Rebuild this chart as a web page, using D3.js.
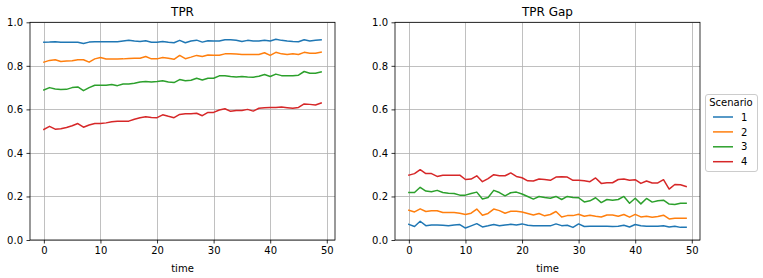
<!DOCTYPE html>
<html><head><meta charset="utf-8">
<script src="https://cdn.jsdelivr.net/npm/d3@7"></script>
<style>body{margin:0;background:#fff}svg{display:block;font-family:"DejaVu Sans",sans-serif}</style>
</head><body><svg id="c" width="763" height="278"></svg>
<script>
const time = d3.range(50);
const scenarios = ["1","2","3","4"];
const colors = ["#1f77b4","#ff7f0e","#2ca02c","#d62728"];
const xTicks = [0,10,20,30,40,50];
const yTicks = [0,0.2,0.4,0.6,0.8,1.0];

const tpr1 = [0.908,0.909,0.911,0.908,0.908,0.908,0.908,0.903,0.909,0.911,0.911,0.911,0.911,0.911,0.914,0.917,0.914,0.912,0.915,0.908,0.908,0.912,0.908,0.906,0.917,0.906,0.914,0.918,0.909,0.915,0.914,0.914,0.920,0.920,0.918,0.912,0.917,0.914,0.914,0.918,0.914,0.922,0.917,0.914,0.912,0.911,0.920,0.914,0.917,0.920];
const tpr2 = [0.817,0.825,0.828,0.820,0.822,0.823,0.828,0.828,0.817,0.832,0.838,0.831,0.831,0.831,0.832,0.834,0.835,0.835,0.843,0.832,0.832,0.838,0.835,0.830,0.848,0.833,0.840,0.848,0.843,0.850,0.849,0.849,0.855,0.855,0.854,0.852,0.852,0.852,0.852,0.860,0.848,0.862,0.855,0.852,0.855,0.852,0.862,0.858,0.858,0.863];
const tpr3 = [0.689,0.700,0.694,0.691,0.692,0.700,0.703,0.686,0.700,0.711,0.711,0.711,0.714,0.709,0.717,0.717,0.720,0.726,0.728,0.726,0.728,0.731,0.726,0.723,0.737,0.732,0.734,0.743,0.735,0.743,0.743,0.754,0.754,0.751,0.749,0.751,0.749,0.748,0.752,0.760,0.751,0.762,0.755,0.755,0.755,0.757,0.774,0.766,0.766,0.772];
const tpr4 = [0.508,0.522,0.509,0.511,0.517,0.525,0.535,0.518,0.528,0.535,0.535,0.538,0.543,0.546,0.545,0.546,0.555,0.562,0.566,0.563,0.562,0.575,0.568,0.562,0.577,0.580,0.580,0.582,0.571,0.586,0.586,0.597,0.603,0.591,0.595,0.595,0.600,0.592,0.605,0.608,0.609,0.609,0.611,0.608,0.605,0.609,0.625,0.623,0.620,0.629];

const gap1 = [0.072,0.062,0.086,0.066,0.069,0.069,0.068,0.066,0.069,0.071,0.055,0.065,0.075,0.060,0.065,0.071,0.065,0.069,0.072,0.069,0.074,0.068,0.066,0.065,0.065,0.065,0.074,0.066,0.068,0.058,0.074,0.062,0.063,0.063,0.063,0.063,0.062,0.063,0.068,0.060,0.071,0.065,0.063,0.063,0.063,0.065,0.060,0.063,0.058,0.058];
const gap2 = [0.137,0.129,0.143,0.131,0.134,0.134,0.126,0.126,0.126,0.123,0.117,0.123,0.142,0.114,0.122,0.142,0.135,0.123,0.132,0.132,0.129,0.122,0.115,0.122,0.111,0.117,0.131,0.106,0.112,0.112,0.118,0.109,0.114,0.109,0.106,0.115,0.115,0.109,0.117,0.105,0.118,0.106,0.109,0.105,0.108,0.114,0.097,0.100,0.100,0.100];
const gap3 = [0.218,0.218,0.242,0.225,0.222,0.228,0.218,0.215,0.214,0.206,0.206,0.214,0.220,0.188,0.195,0.228,0.218,0.203,0.217,0.220,0.211,0.200,0.188,0.200,0.195,0.192,0.200,0.186,0.200,0.195,0.194,0.175,0.180,0.194,0.172,0.186,0.183,0.186,0.200,0.169,0.192,0.166,0.191,0.174,0.180,0.183,0.165,0.163,0.169,0.169];
const gap4 = [0.298,0.305,0.323,0.305,0.305,0.292,0.297,0.297,0.297,0.298,0.278,0.280,0.295,0.268,0.282,0.300,0.295,0.295,0.308,0.292,0.286,0.272,0.271,0.280,0.278,0.274,0.289,0.290,0.289,0.274,0.275,0.272,0.268,0.285,0.260,0.263,0.263,0.278,0.280,0.274,0.277,0.260,0.271,0.262,0.262,0.277,0.234,0.255,0.254,0.246];

const panels = [
  {title:"TPR", left:30, right:335, series:[tpr1,tpr2,tpr3,tpr4]},
  {title:"TPR Gap", left:395, right:700, series:[gap1,gap2,gap3,gap4]}
];
const plotTop = 22.3, plotBottom = 240;
const svg = d3.select("#c");

panels.forEach(p => {
  const x = d3.scaleLinear().domain([-2.45, 51.45]).range([p.left, p.right]);
  const y = d3.scaleLinear().domain([0, 1]).range([plotBottom, plotTop]);
  const g = svg.append("g");
  g.selectAll(".gx").data(xTicks).join("line")
    .attr("x1", d => Math.round(x(d))+0.5).attr("x2", d => Math.round(x(d))+0.5)
    .attr("y1", plotTop).attr("y2", plotBottom).attr("stroke", "#b0b0b0").attr("stroke-width", 0.8);
  g.selectAll(".gy").data(yTicks).join("line")
    .attr("y1", d => Math.round(y(d))+0.5).attr("y2", d => Math.round(y(d))+0.5)
    .attr("x1", p.left).attr("x2", p.right).attr("stroke", "#b0b0b0").attr("stroke-width", 0.8);
  const line = d3.line().x((d,i) => x(time[i])).y(d => y(d));
  p.series.forEach((s, k) => {
    g.append("path").datum(s).attr("d", line).attr("fill", "none")
      .attr("stroke", colors[k]).attr("stroke-width", 1.5).attr("stroke-linejoin", "round").attr("stroke-linecap", "square");
  });
  const xa = g.append("g").attr("transform", `translate(0,${plotBottom})`)
    .call(d3.axisBottom(x).tickValues(xTicks).tickSize(3.5).tickPadding(3.5).tickFormat(d3.format("d")));
  const ya = g.append("g").attr("transform", `translate(${p.left},0)`)
    .call(d3.axisLeft(y).tickValues(yTicks).tickSize(3.5).tickPadding(3.5).tickFormat(d3.format(".1f")));
  [xa, ya].forEach(a => {
    a.select(".domain").remove();
    a.selectAll("text").attr("font-size", 10).attr("font-family", "DejaVu Sans").attr("fill", "#000");
    a.selectAll("line").attr("stroke", "#000").attr("stroke-width", 0.8);
  });
  g.append("rect").attr("x", p.left).attr("y", plotTop).attr("width", p.right - p.left).attr("height", plotBottom - plotTop)
    .attr("fill", "none").attr("stroke", "#000").attr("stroke-width", 0.8);
  g.append("text").attr("x", (p.left + p.right) / 2).attr("y", 16).attr("text-anchor", "middle")
    .attr("font-size", 12).text(p.title);
  g.append("text").attr("x", (p.left + p.right) / 2).attr("y", 272).attr("text-anchor", "middle")
    .attr("font-size", 10).text("time");
});

const lg = svg.append("g");
lg.append("rect").attr("x", 705.5).attr("y", 94.5).attr("width", 52).attr("height", 77).attr("rx", 2.5)
  .attr("fill", "#fff").attr("fill-opacity", 0.8).attr("stroke", "#ccc").attr("stroke-width", 1);
lg.append("text").attr("x", 731).attr("y", 105.5).attr("text-anchor", "middle").attr("font-size", 10).text("Scenario");
scenarios.forEach((s, k) => {
  const yy = 117 + k * 14.9;
  lg.append("line").attr("x1", 713).attr("x2", 733).attr("y1", yy).attr("y2", yy)
    .attr("stroke", colors[k]).attr("stroke-width", 1.5);
  lg.append("text").attr("x", 741).attr("y", yy + 3.6).attr("font-size", 10).text(s);
});
</script></body></html>
